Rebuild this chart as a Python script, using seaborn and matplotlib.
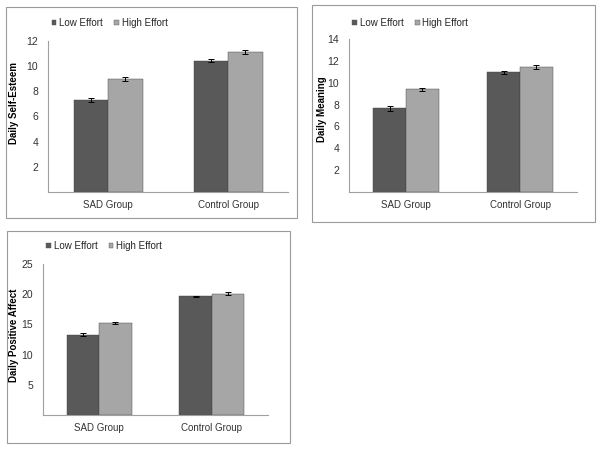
import matplotlib
matplotlib.use("Agg")
import matplotlib.pyplot as plt
import seaborn as sns
import pandas as pd
from matplotlib.patches import Rectangle

sns.set_style("white")
plt.rcParams['font.family'] = ['Liberation Sans', 'DejaVu Sans']

groups = ["SAD Group", "Control Group"]
efforts = ["Low Effort", "High Effort"]

esteem_low = [7.3, 10.45]
esteem_high = [8.97, 11.12]
esteem_err_low = [0.18, 0.15]
esteem_err_high = [0.18, 0.15]

meaning_low = [7.65, 10.95]
meaning_high = [9.38, 11.42]
meaning_err_low = [0.22, 0.15]
meaning_err_high = [0.15, 0.18]

affect_low = [13.3, 19.65]
affect_high = [15.25, 20.1]
affect_err_low = [0.2, 0.1]
affect_err_high = [0.2, 0.25]

ylabels = ["Daily Self-Esteem", "Daily Meaning", "Daily Positive Affect"]
yticks_list = [[2, 4, 6, 8, 10, 12], [2, 4, 6, 8, 10, 12, 14], [5, 10, 15, 20, 25]]
ylims = [12, 14, 25]

colors = {"Low Effort": "#595959", "High Effort": "#a6a6a6"}

W, H = 600, 449
fig = plt.figure(figsize=(W / 100, H / 100), dpi=100)

def fbox(x0, y0, x1, y1):
    return [x0 / W, 1 - y1 / H, (x1 - x0) / W, (y1 - y0) / H]

# panel frames (pixel coords)
frames = [(6, 7, 297, 218), (312, 5, 595, 222), (7, 231, 290, 443)]
for (x0, y0, x1, y1) in frames:
    fig.patches.append(Rectangle((x0 / W, 1 - y1 / H), (x1 - x0) / W, (y1 - y0) / H,
                                 transform=fig.transFigure, fill=False,
                                 edgecolor="#9a9a9a", linewidth=0.8))

axes_boxes = [(48, 41, 288, 192), (349, 39, 577, 192), (43, 264, 268, 415)]
ylabel_pos = [(-0.121, 0.59), (-0.096, 0.54), (-0.107, 0.53)]
legend_y = [1.12, 1.105, 1.12]

datasets = [
    (esteem_low, esteem_high, esteem_err_low, esteem_err_high),
    (meaning_low, meaning_high, meaning_err_low, meaning_err_high),
    (affect_low, affect_high, affect_err_low, affect_err_high),
]

for i, (lo, hi, elo, ehi) in enumerate(datasets):
    ax = fig.add_axes(fbox(*axes_boxes[i]))
    df = pd.DataFrame({
        "group": groups * 2,
        "effort": [efforts[0]] * 2 + [efforts[1]] * 2,
        "value": lo + hi,
        "err": elo + ehi,
    })
    sns.barplot(data=df, x="group", y="value", hue="effort", order=groups,
                hue_order=efforts, palette=colors, width=0.575, gap=0,
                errorbar=None, edgecolor="#3f3f3f", linewidth=0.3, ax=ax,
                saturation=1)
    for cont, lvl in zip(ax.containers, efforts):
        sub = df[df.effort == lvl].set_index("group").loc[groups]
        xs = [p.get_x() + p.get_width() / 2 for p in cont.patches]
        ax.errorbar(xs, sub["value"].values, yerr=sub["err"].values, fmt="none",
                    ecolor="black", elinewidth=0.7, capsize=2, capthick=0.7)
    ax.set_xlim(-0.5, 1.5)
    ax.set_ylim(0, ylims[i])
    ax.set_yticks(yticks_list[i])
    ax.set_yticklabels([str(t) for t in yticks_list[i]])
    ax.set_xlabel("")
    ax.set_ylabel(ylabels[i], fontsize=7, fontweight="bold", color="black")
    ax.yaxis.set_label_coords(*ylabel_pos[i])
    ax.tick_params(axis="both", length=0, labelsize=7.5, colors="#333333")
    ax.tick_params(axis="y", pad=7)
    ax.tick_params(axis="x", pad=6, labelsize=7)
    for s in ["top", "right"]:
        ax.spines[s].set_visible(False)
    for s in ["left", "bottom"]:
        ax.spines[s].set_color("#a0a0a0")
        ax.spines[s].set_linewidth(0.8)
    leg = ax.get_legend()
    if leg is not None:
        leg.remove()
    handles = [Rectangle((0, 0), 1, 1, facecolor=colors[e], edgecolor="#555555", linewidth=0.3)
               for e in efforts]
    ax.legend(handles, efforts, loc="center left", bbox_to_anchor=(0.015, legend_y[i]),
              ncol=2, frameon=False, fontsize=7, handlelength=0.5, handleheight=0.5,
              handletextpad=0.3, columnspacing=1.1, borderpad=0, borderaxespad=0)

fig.savefig("out.png", dpi=100, facecolor="white")
